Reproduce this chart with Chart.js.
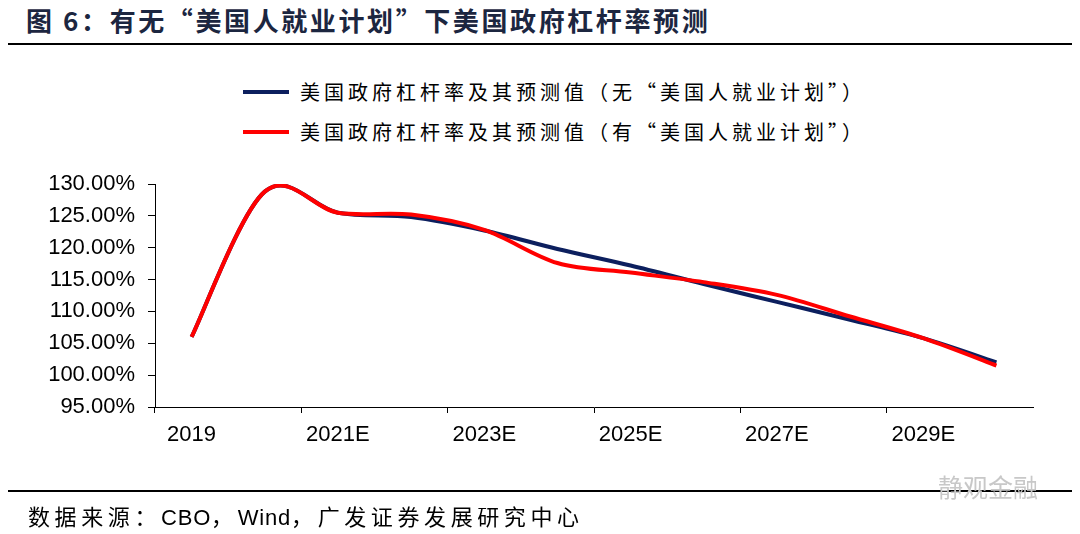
<!DOCTYPE html>
<html><head><meta charset="utf-8">
<script src="https://cdn.jsdelivr.net/npm/chart.js@4"></script>
<style>
html,body{margin:0;padding:0;background:#fff;}
body{width:1080px;height:534px;position:relative;overflow:hidden;font-family:"Noto Sans CJK SC","Liberation Sans",sans-serif;}
#title{position:absolute;left:26px;top:1px;font-size:26px;font-weight:bold;color:#1c2640;letter-spacing:2.6px;white-space:nowrap;}
.rule{position:absolute;left:8px;width:1064px;height:2px;background:#000;}
#source{position:absolute;left:28px;top:499px;font-size:22px;color:#000;white-space:nowrap;letter-spacing:4.6px;font-family:"Liberation Sans","Noto Sans CJK SC",sans-serif;}
#source .lat{letter-spacing:0.8px;}
#wm{position:absolute;left:938px;top:468px;font-size:25px;color:#c8c8c8;white-space:nowrap;}
.leg{position:absolute;left:243px;height:30px;white-space:nowrap;font-size:20px;color:#000;letter-spacing:4px;}
.leg span.l{position:absolute;left:0;top:13px;width:46px;height:4px;}
.leg span.t{position:absolute;left:57px;top:0;line-height:30px;}
canvas{position:absolute;left:0;top:0;}
</style></head>
<body>
<div id="title">图 6：有无“美国人就业计划”下美国政府杠杆率预测</div>
<div class="rule" style="top:43px"></div>
<div class="leg" style="top:77px"><span class="l" style="background:#0c1f5e"></span><span class="t" id="lg0"></span></div>
<div class="leg" style="top:117px"><span class="l" style="background:#ff0000"></span><span class="t" id="lg1"></span></div>
<div style="position:absolute;left:0;top:0;width:1080px;height:534px"><canvas id="c" width="1080" height="534"></canvas></div>
<div class="rule" style="top:490px"></div>
<div id="wm">静观金融</div>
<div id="source">数据来源：<span class="lat">CBO</span>，<span class="lat">Wind</span>，广发证券发展研究中心</div>
<script>
const categories = ['2019','2020','2021E','2022E','2023E','2024E','2025E','2026E','2027E','2028E','2029E','2030E'];
const withoutPlan = [106.0,128.8,125.5,124.8,122.7,119.8,117.2,114.3,111.5,108.7,105.8,102.0];
const withPlan    = [106.0,128.8,125.5,125.2,122.8,117.6,116.1,114.6,112.6,109.2,105.8,101.5];
const seriesNames = ['美国政府杠杆率及其预测值（无“美国人就业计划”）','美国政府杠杆率及其预测值（有“美国人就业计划”）'];
const seriesColors = ['#0c1f5e','#ff0000'];
const yMin = 95, yMax = 130, yStep = 5;

document.getElementById('lg0').textContent = seriesNames[0];
document.getElementById('lg1').textContent = seriesNames[1];

// Excel-style (Catmull-Rom) smoothing computed from the points Chart.js placed on its scales
const excelSmooth = {
  id: 'excelSmooth',
  beforeDatasetsDraw(chart) {
    chart.getSortedVisibleDatasetMetas().forEach(meta => {
      const line = meta.dataset;
      if (line && line.updateControlPoints) line.updateControlPoints(chart.chartArea, 'x');
      const pts = meta.data;
      for (let i = 0; i < pts.length; i++) {
        const p = pts[i], a = pts[i - 1] || p, b = pts[i + 1] || p;
        const dx = (b.x - a.x) / 6, dy = (b.y - a.y) / 6;
        p.cp1x = p.x - dx; p.cp1y = p.y - dy;
        p.cp2x = p.x + dx; p.cp2y = p.y + dy;
      }
      if (line) { line._pointsUpdated = true; line._path = undefined; }
    });
  }
};

new Chart(document.getElementById('c'), {
  type: 'line',
  data: {
    labels: categories,
    datasets: [
      {label: seriesNames[0], data: withoutPlan, borderColor: seriesColors[0], borderWidth:4, pointRadius:0, tension:0.33, order:1, fill:false, capBezierPoints:false},
      {label: seriesNames[1], data: withPlan, borderColor: seriesColors[1], borderWidth:4, pointRadius:0, tension:0.33, order:0, fill:false, capBezierPoints:false}
    ]
  },
  plugins: [excelSmooth],
  options: {
    responsive:false, animation:false, devicePixelRatio:1,
    layout:{padding:{left:0,right:47,top:184,bottom:80}},
    plugins:{legend:{display:false}, tooltip:{enabled:false}},
    scales:{
      x:{
        type:'category', offset:true,
        afterFit:(s)=>{s.height=47;},
        grid:{offset:true, drawOnChartArea:false, drawTicks:true, tickLength:6,
              color:(ctx)=> (ctx.index%2===0 ? '#000' : 'rgba(0,0,0,0)'), lineWidth:1},
        border:{color:'#000', width:1},
        ticks:{autoSkip:false, maxRotation:0, padding:9, color:'#000',
               font:{family:'"Liberation Sans", Arial, sans-serif', size:22},
               callback:(v,i)=> (i%2===0 ? categories[i] : '')}
      },
      y:{
        min:yMin, max:yMax,
        afterFit:(s)=>{s.width=155;},
        grid:{drawOnChartArea:false, drawTicks:true, tickLength:7, color:'#000', lineWidth:1},
        border:{color:'#000', width:1},
        ticks:{stepSize:yStep, padding:13, color:'#000',
               font:{family:'"Liberation Sans", Arial, sans-serif', size:22},
               callback:(v)=> v.toFixed(2)+'%'}
      }
    }
  }
});
</script>
</body></html>
